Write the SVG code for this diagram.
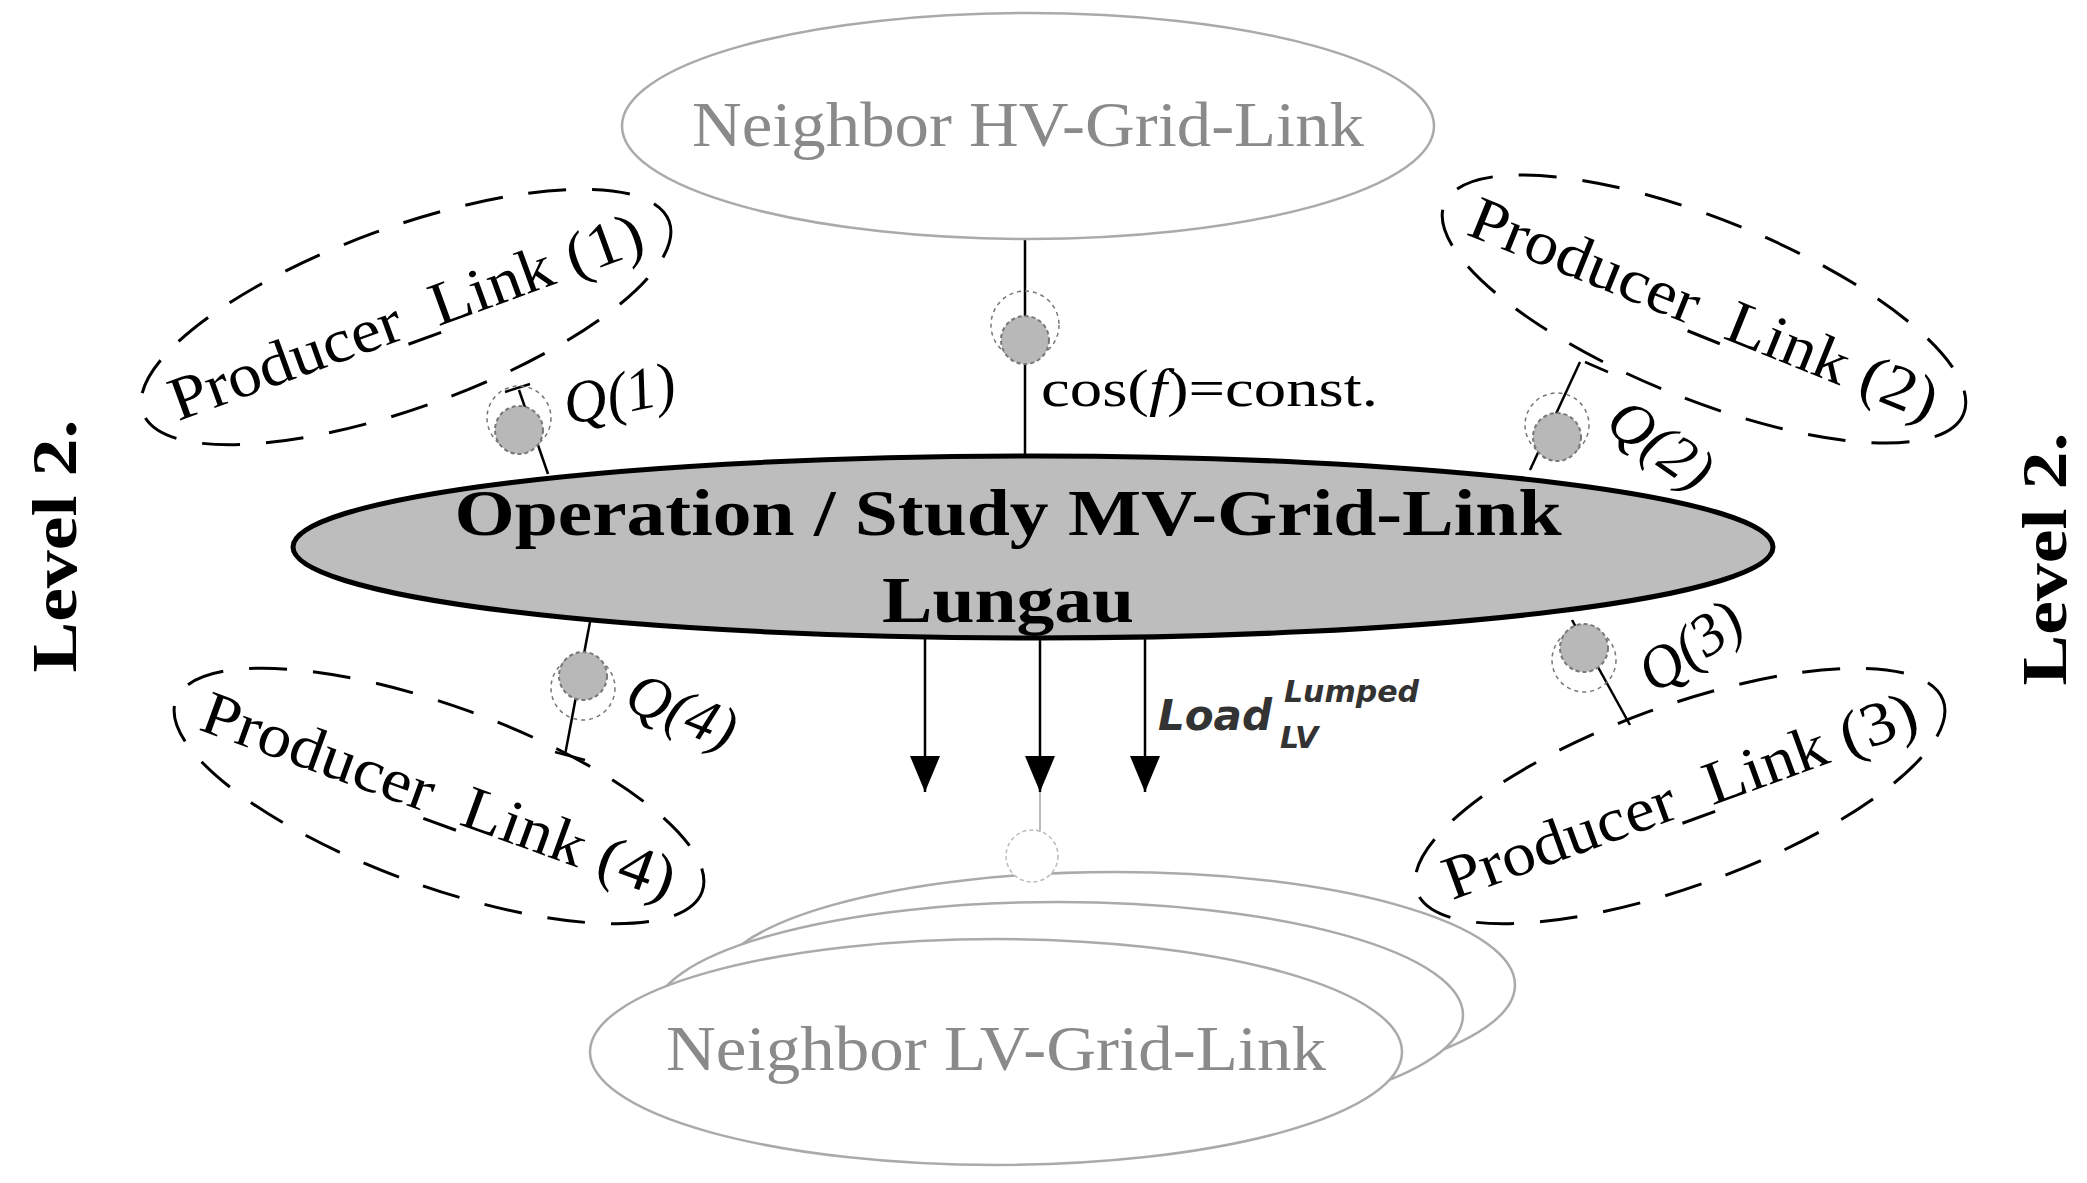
<svg xmlns="http://www.w3.org/2000/svg" width="2087" height="1183" viewBox="0 0 2087 1183">
<style>
.gray{fill:#fff;stroke:#aaa;stroke-width:2.5}
.gt{font-family:"Liberation Serif",serif;font-size:64px;fill:#8a8a8a;text-anchor:middle}
.prod{fill:none;stroke:#000;stroke-width:3;stroke-dasharray:38 26}
.pt{font-family:"Liberation Serif",serif;font-size:62px;fill:#000;text-anchor:middle}
.node{fill:#b8b8b8;stroke:#777;stroke-width:2;stroke-dasharray:4 3}
.halo{fill:none;stroke:#777;stroke-width:1.5;stroke-dasharray:4 4}
.ln{stroke:#000;stroke-width:2.5;fill:none}
.q{font-family:"Liberation Serif",serif;font-style:italic;font-size:60px;fill:#000}
.lvl{font-family:"Liberation Serif",serif;font-weight:bold;font-size:64px;fill:#000;text-anchor:middle}
</style>
<defs>
<marker id="arr" viewBox="0 0 30 36" refX="15" refY="36" markerWidth="30" markerHeight="36" markerUnits="userSpaceOnUse" orient="0"><path d="M0,0 L30,0 L15,36 Z" fill="#000"/></marker>
</defs>
<g id="connectors">
<line x1="1025" y1="240" x2="1025" y2="458" class="ln"/>
<line x1="519" y1="390" x2="548" y2="474" class="ln"/>
<line x1="505" y1="392" x2="530" y2="384" class="ln"/>
<line x1="1580" y1="362" x2="1530" y2="470" class="ln"/>
<line x1="1585" y1="362" x2="1608" y2="372" class="ln"/>
<line x1="1572" y1="620" x2="1630" y2="725" class="ln"/>
<line x1="590" y1="622" x2="565" y2="755" class="ln"/>
<line x1="555" y1="752" x2="585" y2="760" class="ln"/>
<line x1="925" y1="639" x2="925" y2="792" class="ln" marker-end="url(#arr)"/>
<line x1="1040" y1="639" x2="1040" y2="792" class="ln" stroke-width="3.5" marker-end="url(#arr)"/>
<line x1="1145" y1="639" x2="1145" y2="792" class="ln" marker-end="url(#arr)"/>
<line x1="1040" y1="792" x2="1040" y2="945" stroke="#bbb" stroke-width="2"/>
</g>
<g id="hv"><ellipse cx="1028" cy="126" rx="406" ry="113" class="gray"/><text x="1028" y="146" class="gt" textLength="672" lengthAdjust="spacingAndGlyphs">Neighbor HV-Grid-Link</text></g>
<g id="lv">
<ellipse cx="1115" cy="985" rx="400" ry="113" class="gray"/>
<ellipse cx="1058" cy="1015" rx="405" ry="113" class="gray"/>
<ellipse cx="996" cy="1052" rx="406" ry="113" class="gray"/>
<text x="996" y="1070" class="gt" textLength="660" lengthAdjust="spacingAndGlyphs">Neighbor LV-Grid-Link</text>
<circle cx="1032" cy="856" r="26" fill="#fff" stroke="#bbb" stroke-width="1.5" stroke-dasharray="4 3"/>
</g>
<g id="main"><ellipse cx="1033" cy="547" rx="740" ry="91" fill="#bdbdbd" stroke="#000" stroke-width="5"/>
<text x="1008" y="535" font-family="Liberation Serif,serif" font-weight="bold" font-size="66" text-anchor="middle" textLength="1107" lengthAdjust="spacingAndGlyphs">Operation / Study MV-Grid-Link</text>
<text x="1008" y="622" font-family="Liberation Serif,serif" font-weight="bold" font-size="66" text-anchor="middle" textLength="252" lengthAdjust="spacingAndGlyphs">Lungau</text></g>
<g id="p1" transform="translate(406,317) rotate(-20)"><ellipse rx="280" ry="90" class="prod"/><text y="20" class="pt" textLength="500" lengthAdjust="spacingAndGlyphs">Producer_Link (1)</text></g>
<g id="p2" transform="translate(1704,309) rotate(22)"><ellipse rx="280" ry="90" class="prod"/><text y="20" class="pt" textLength="500" lengthAdjust="spacingAndGlyphs">Producer_Link (2)</text></g>
<g id="p3" transform="translate(1680,796) rotate(-20)"><ellipse rx="280" ry="90" class="prod"/><text y="20" class="pt" textLength="500" lengthAdjust="spacingAndGlyphs">Producer_Link (3)</text></g>
<g id="p4" transform="translate(439,796) rotate(20)"><ellipse rx="280" ry="90" class="prod"/><text y="20" class="pt" textLength="500" lengthAdjust="spacingAndGlyphs">Producer_Link (4)</text></g>
<g id="n0"><circle cx="1025" cy="325" r="34" fill="#fff" class="halo"/><circle cx="1025" cy="340" r="24" class="node"/><text x="1041" y="406" font-family="Liberation Serif,serif" font-size="52" textLength="337" lengthAdjust="spacingAndGlyphs">cos(<tspan font-style="italic">f</tspan>)=const.</text></g>
<g id="n1"><circle cx="519" cy="418" r="32" fill="#fff" class="halo"/><circle cx="519" cy="430" r="24" class="node"/><text x="568" y="425" class="q" transform="rotate(-12 568 425)">Q(1)</text></g>
<g id="n2"><circle cx="1557" cy="425" r="32" fill="#fff" class="halo"/><circle cx="1557" cy="437" r="24" class="node"/><text x="1603" y="428" class="q" transform="rotate(35 1603 428)">Q(2)</text></g>
<g id="n3"><circle cx="1584" cy="660" r="32" fill="#fff" class="halo"/><circle cx="1584" cy="648" r="24" class="node"/><text x="1655" y="695" class="q" transform="rotate(-35 1655 695)">Q(3)</text></g>
<g id="n4"><circle cx="583" cy="688" r="32" fill="#fff" class="halo"/><circle cx="583" cy="676" r="24" class="node"/><text x="622" y="708" class="q" transform="rotate(22 622 708)">Q(4)</text></g>
<g id="load" font-family="DejaVu Sans,sans-serif" font-style="italic" font-weight="bold" fill="#333">
<text x="1158" y="730" font-size="42">Load</text>
<text x="1284" y="702" font-size="30">Lumped</text>
<text x="1280" y="748" font-size="30">LV</text>
</g>
<g id="lvl1"><text class="lvl" transform="translate(76,546) rotate(-90)" textLength="253" lengthAdjust="spacingAndGlyphs">Level 2.</text></g>
<g id="lvl2"><text class="lvl" transform="translate(2066,559) rotate(-90)" textLength="253" lengthAdjust="spacingAndGlyphs">Level 2.</text></g>
</svg>
